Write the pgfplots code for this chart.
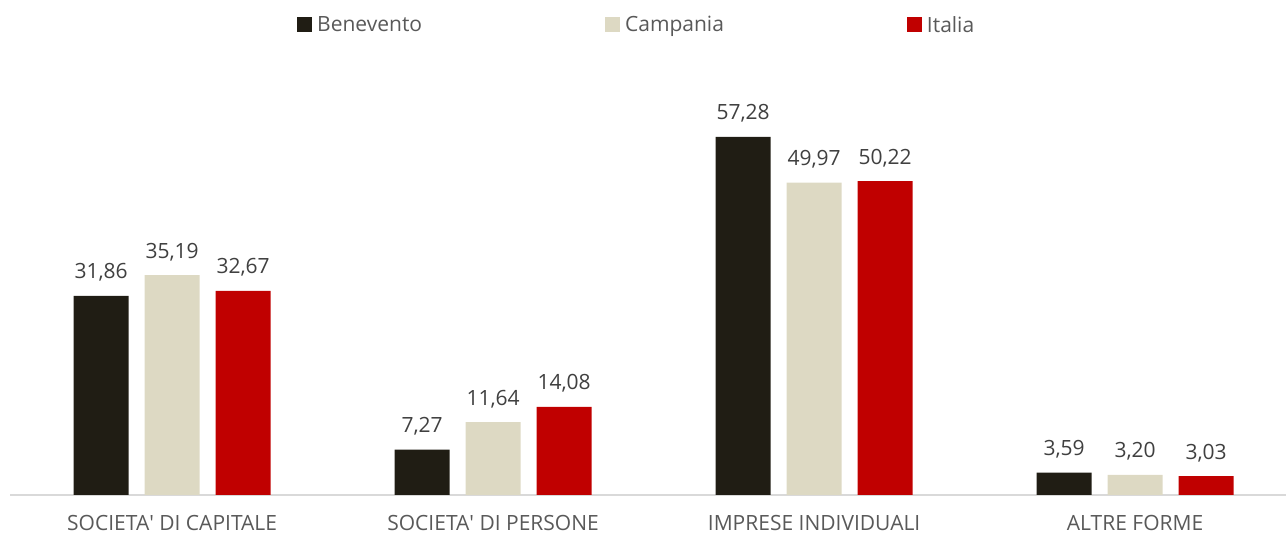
\documentclass[border=0pt]{standalone}
\usepackage{pgfplots}
\pgfplotsset{compat=1.18}
\usepackage{fontspec}
\setmainfont{Open Sans}
\definecolor{cBen}{HTML}{201D14}
\definecolor{cCam}{HTML}{DDD9C3}
\definecolor{cIta}{HTML}{C00000}
\definecolor{txt}{HTML}{595959}
\definecolor{lbl}{HTML}{404040}
\definecolor{axl}{HTML}{D9D9D9}

\begin{document}
\begin{tikzpicture}
\useasboundingbox (-10pt,-40pt) rectangle (1276pt,495pt);
\begin{axis}[
  at={(0,0)}, anchor=south west,
  scale only axis, width=1276pt, height=395pt,
  ybar=16pt, bar width=55pt,
  xmin=-0.505, xmax=3.47, ymin=0, ymax=63.2,
  axis x line*=bottom, axis y line=none,
  x axis line style={draw=axl, line width=1.5pt},
  xtick={0,1,2,3},
  xticklabels={SOCIETA\textquotesingle{} DI CAPITALE, SOCIETA\textquotesingle{} DI PERSONE, IMPRESE INDIVIDUALI, ALTRE FORME},
  major tick length=0pt,
  xticklabel style={font=\fontsize{21}{25}\selectfont, text=txt, anchor=base, yshift=-36pt},
  nodes near coords,
  nodes near coords style={font=\fontsize{21}{25}\selectfont, text=lbl, anchor=base, yshift=17pt},
  /pgf/number format/.cd, fixed, fixed zerofill, precision=2, use comma, 1000 sep={}, assume math mode=true,
  /pgfplots/.cd,
  legend columns=3,
  legend style={at={(0.2249,1.19)}, anchor=west, draw=none, fill=none, inner sep=0pt,
    font=\fontsize{21}{25}\selectfont, text=txt,
    /tikz/every odd column/.append style={column sep=3pt},
    /tikz/every even column/.append style={column sep=181pt}},
  legend image code/.code={\draw[#1, draw=none] (0pt,-7.5pt) rectangle (15pt,7.5pt);},
]
\addplot[fill=cBen, draw=none] coordinates {(0,31.86) (1,7.27) (2,57.28) (3,3.59)};
\addplot[fill=cCam, draw=none] coordinates {(0,35.19) (1,11.64) (2,49.97) (3,3.20)};
\addplot[fill=cIta, draw=none] coordinates {(0,32.67) (1,14.08) (2,50.22) (3,3.03)};
\legend{Benevento, Campania, Italia}
\end{axis}
\end{tikzpicture}
\end{document}
